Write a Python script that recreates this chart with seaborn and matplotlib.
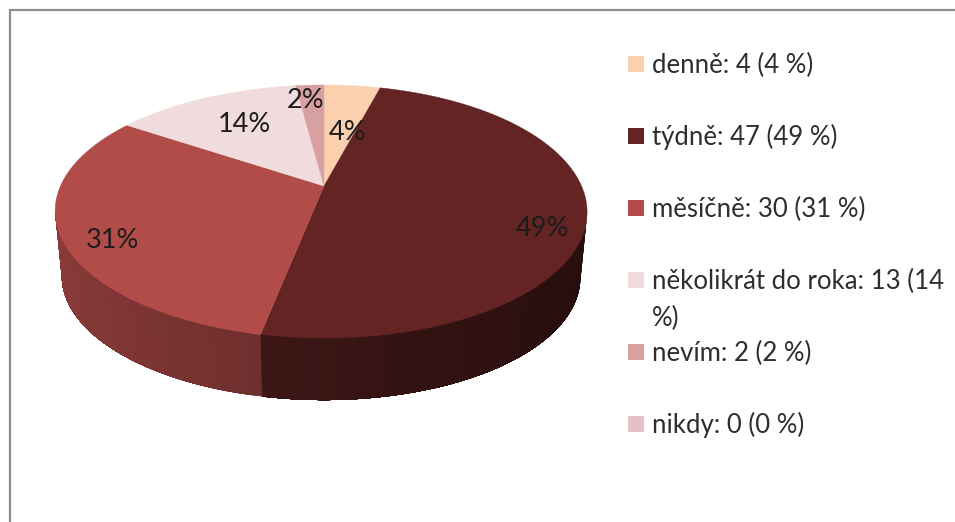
import matplotlib
matplotlib.use('Agg')
import matplotlib.pyplot as plt
import numpy as np
import seaborn as sns
from matplotlib.patches import Rectangle

# Data
categories = ['denně', 'týdně', 'měsíčně', 'několikrát do roka', 'nevím', 'nikdy']
counts = [4, 47, 30, 13, 2, 0]
percent_labels = [4, 49, 31, 14, 2, 0]
wrapped = {'několikrát do roka': 'několikrát do roka: 13 (14\n%)'}
colors = ['#FBD0AE', '#632423', '#B24C49', '#F0DCDC', '#D9A0A2', '#E6C0C4']

# Layout, in pixels of the 955x522 image
pct_pos = [(348, 133), (542, 228), (112, 240), (244, 124), (306, 100)]
cx, cy = 321, 186
rx, ry, persp = 260.5, 121.4, 0.2016
lean = 3
wall_drop, wall_scale = 65.8, 0.975

sns.set_theme(style='white')
plt.rcParams['font.family'] = ['Lato', 'DejaVu Sans']


def project(theta, drop=0.0, scale=1.0):
    # theta runs clockwise from 12 o'clock, tilted disc with some perspective
    u, v = np.sin(theta), np.cos(theta)
    w = 1 + persp * v
    return cx + lean * v ** 2 + scale * rx * u / w, cy + drop - scale * ry * v / w


def shade(color, factor):
    return tuple(np.array(color) * factor)


fig = plt.figure(figsize=(9.55, 5.22), dpi=100)
ax = fig.add_axes([0, 0, 1, 1])
ax.set_xlim(0, 955)
ax.set_ylim(522, 0)
ax.axis('off')

palette = sns.color_palette(colors)
edges = np.concatenate([[0], np.cumsum(counts)]) / np.sum(counts) * 2 * np.pi

# Side wall first, only the part that faces the viewer
wall_from = np.arccos(-persp)
wall_to = 2 * np.pi - wall_from
for i, color in enumerate(palette):
    a, b = max(edges[i], wall_from), min(edges[i + 1], wall_to)
    if b <= a:
        continue
    # painted strip over strip, each one running to the end of the slice, so no seams
    steps = np.linspace(a, b, int((b - a) * 60) + 2)
    for t0, t1 in zip(steps[:-1], steps[1:]):
        arc = np.linspace(t0, b, 60)
        xt, yt = project(arc)
        xb, yb = project(arc[::-1], wall_drop, wall_scale)
        c = shade(color, 0.58 - 0.2 * np.sin((t0 + t1) / 2))
        ax.fill(np.r_[xt, xb], np.r_[yt, yb], color=c, lw=0)

# Top of the disc
for i, color in enumerate(palette):
    if counts[i] == 0:
        continue
    arc = np.linspace(edges[i], edges[i + 1], 120)
    x, y = project(arc)
    ax.fill(np.r_[cx + lean, x], np.r_[cy, y], color=color, lw=0.3)

for (x, y), pct in zip(pct_pos, percent_labels):
    ax.text(x, y, f'{pct}%', fontsize=19.5, color='#1c1c1c', ha='center', va='center')

# Legend, one row every 72 px; the wrapped label runs into the gap
for i, (name, count, pct, color) in enumerate(zip(categories, counts, percent_labels, palette)):
    row = 73 + i * 72
    ax.add_patch(Rectangle((628, row - 17), 16, 16, facecolor=color, edgecolor='none'))
    label = wrapped.get(name, f'{name}: {count} ({pct} %)')
    for k, line in enumerate(label.split('\n')):
        ax.text(652, row + k * 37, line, fontsize=18.5, color='#2e2e2e', ha='left', va='baseline')

# Frame of the screenshot, only top and left are in view
ax.plot([10, 10, 955], [522, 10, 10], color='#8c8c8c', lw=1.6, solid_joinstyle='miter')

fig.savefig('out.png', dpi=100)
